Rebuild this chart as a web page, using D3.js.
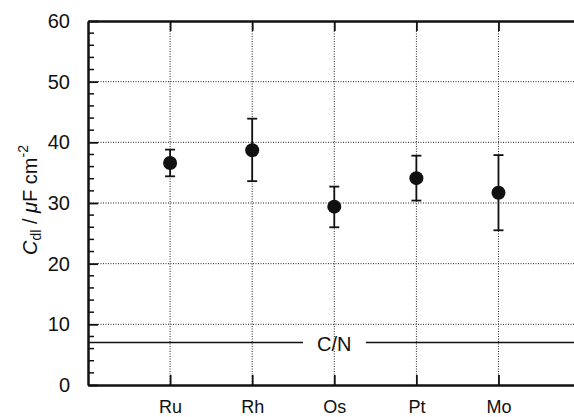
<!DOCTYPE html>
<html lang="en">
<head>
	<meta charset="UTF-8">
	<title>Cdl</title>
	<script src="https://cdn.jsdelivr.net/npm/d3@7"></script>
	<style>
		body { margin: 0; background: #fff; }
		text { font-family: "Liberation Sans", Arial, sans-serif; fill: #111; }
	</style>
</head>
<body>
	<svg id="svg"></svg>
	<script>
		var metals = ["Ru", "Rh", "Os", "Pt", "Mo"];
		var cdl = [36.6, 38.7, 29.4, 34.1, 31.7];
		var errLow = [34.4, 33.6, 26.0, 30.4, 25.5];
		var errHigh = [38.8, 43.9, 32.7, 37.8, 37.9];
		var yTicks = [0, 10, 20, 30, 40, 50, 60];
		var cnLevel = 7;

		var w = 574, h = 417,
			svg = d3.select("#svg").attr("width", w).attr("height", h);
		var pLeft = 88, pRight = 574, pTop = 21, pBottom = 385;

		var x = d3.scaleLinear().domain([0, 5.92]).range([pLeft, pRight]);
		var y = d3.scaleLinear().domain([0, 60]).range([pBottom, pTop]);
		var pos = function(i) { return x(i + 1); };

		// dotted grid
		var grid = svg.append("g").attr("stroke", "#222").attr("stroke-width", 1)
			.attr("stroke-dasharray", "1,1.5");
		grid.selectAll(".hg").data(yTicks.filter(function(d) { return d > 0 && d < 60; }))
			.enter().append("line")
			.attr("x1", pLeft).attr("x2", pRight)
			.attr("y1", function(d) { return y(d); }).attr("y2", function(d) { return y(d); });
		grid.selectAll(".vg").data(metals).enter().append("line")
			.attr("x1", function(d, i) { return pos(i); }).attr("x2", function(d, i) { return pos(i); })
			.attr("y1", pTop).attr("y2", pBottom);

		// C/N line with gap for label
		var cnY = y(cnLevel);
		svg.append("line").attr("x1", pLeft).attr("x2", 303).attr("y1", cnY).attr("y2", cnY)
			.attr("stroke", "#111").attr("stroke-width", 1.6);
		svg.append("line").attr("x1", 366).attr("x2", pRight).attr("y1", cnY).attr("y2", cnY)
			.attr("stroke", "#111").attr("stroke-width", 1.6);
		svg.append("text").attr("x", pos(2)).attr("y", cnY + 8)
			.attr("text-anchor", "middle").attr("font-size", 20).text("C/N");

		// axes
		var yAxis = d3.axisLeft(y).tickValues(yTicks).tickSizeInner(-10).tickSizeOuter(0).tickPadding(18)
			.tickFormat(d3.format("d"));
		var gy = svg.append("g").attr("transform", "translate(" + pLeft + ",0)").call(yAxis);
		gy.selectAll("text").attr("font-size", 20).attr("font-family", "Liberation Sans, Arial, sans-serif");
		gy.selectAll("line").attr("stroke", "#111").attr("stroke-width", 1.8);
		gy.select(".domain").attr("stroke", "#111").attr("stroke-width", 2.5);

		var minorY = d3.range(0, 60, 2).filter(function(d) { return d % 10 !== 0; });
		svg.append("g").selectAll("line").data(minorY).enter().append("line")
			.attr("x1", pLeft).attr("x2", pLeft + 6)
			.attr("y1", function(d) { return y(d); }).attr("y2", function(d) { return y(d); })
			.attr("stroke", "#111").attr("stroke-width", 1.5);

		var xAxis = d3.axisBottom(x).tickValues([1, 2, 3, 4, 5]).tickSizeInner(-10).tickSizeOuter(0)
			.tickPadding(15).tickFormat(function(d) { return metals[d - 1]; });
		var gx = svg.append("g").attr("transform", "translate(0," + pBottom + ")").call(xAxis);
		gx.selectAll("text").attr("font-size", 18).attr("font-family", "Liberation Sans, Arial, sans-serif");
		gx.selectAll("line").attr("stroke", "#111").attr("stroke-width", 1.8);
		gx.select(".domain").attr("stroke", "#111").attr("stroke-width", 2.5);

		var xTop = d3.axisTop(x).tickValues([1, 2, 3, 4, 5]).tickSizeInner(-10).tickSizeOuter(0)
			.tickFormat("");
		var gt = svg.append("g").attr("transform", "translate(0," + pTop + ")").call(xTop);
		gt.selectAll("line").attr("stroke", "#111").attr("stroke-width", 1.8);
		gt.select(".domain").attr("stroke", "#111").attr("stroke-width", 2.5);

		// error bars
		var eb = svg.append("g").attr("stroke", "#111").attr("stroke-width", 1.8);
		metals.forEach(function(m, i) {
			var cx = pos(i);
			eb.append("line").attr("x1", cx).attr("x2", cx)
				.attr("y1", y(errLow[i])).attr("y2", y(errHigh[i]));
			[errLow[i], errHigh[i]].forEach(function(v) {
				eb.append("line").attr("x1", cx - 5).attr("x2", cx + 5)
					.attr("y1", y(v)).attr("y2", y(v));
			});
		});
		svg.append("g").selectAll("circle").data(cdl).enter().append("circle")
			.attr("cx", function(d, i) { return pos(i); })
			.attr("cy", function(d) { return y(d); })
			.attr("r", 7).attr("fill", "#111");

		// y title
		var title = svg.append("text").attr("transform", "translate(37,200) rotate(-90)")
			.attr("text-anchor", "middle").attr("font-size", 20);
		title.append("tspan").attr("font-style", "italic").text("C");
		title.append("tspan").attr("font-size", 14).attr("dy", 4).text("dl");
		title.append("tspan").attr("dy", -4).text(" / ");
		title.append("tspan").attr("font-style", "italic").text("\u03bc");
		title.append("tspan").text("F cm");
		title.append("tspan").attr("font-size", 14).attr("dy", -9).text("-2");
	</script>
</body>
</html>
